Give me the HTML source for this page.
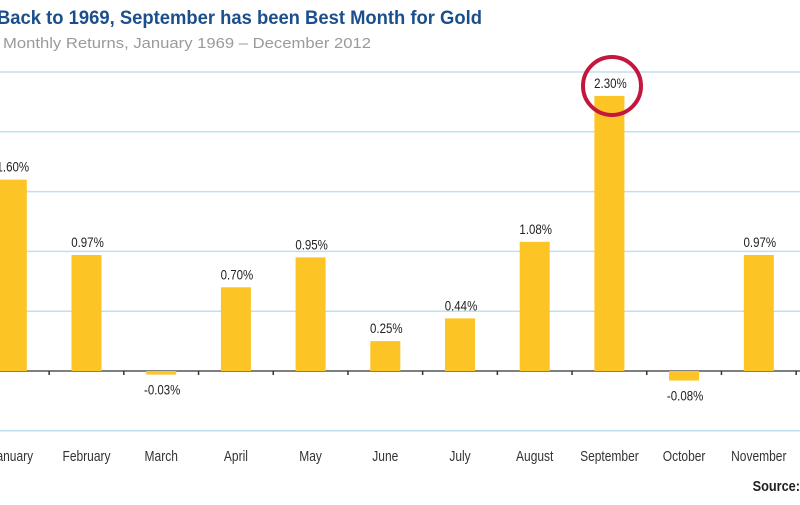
<!DOCTYPE html>
<html><head><meta charset="utf-8"><style>
body{margin:0;background:#fff;width:800px;height:500px;overflow:hidden}
svg text{font-family:"Liberation Sans",sans-serif}
</style></head><body>
<svg id="chart" width="800" height="500" viewBox="0 0 800 500" xmlns="http://www.w3.org/2000/svg">
<text x="-3" y="24" font-weight="bold" font-size="19" fill="#1b4f8c" textLength="485" lengthAdjust="spacingAndGlyphs">Back to 1969, September has been Best Month for Gold</text>
<text x="3" y="48" font-size="15" fill="#9a9a9a" textLength="368" lengthAdjust="spacingAndGlyphs">Monthly Returns, January 1969 – December 2012</text>
<g id="grid"></g><g id="bars"></g><g id="labels"></g>
<circle cx="612" cy="86" r="29" fill="none" stroke="#c4173e" stroke-width="4"/>
<text transform="translate(800,491) scale(0.85,1)" text-anchor="end" font-weight="bold" font-size="15" fill="#222">Source:</text>
</svg>
<script>
const months=["January","February","March","April","May","June","July","August","September","October","November"];
const returns=[1.60,0.97,-0.03,0.70,0.95,0.25,0.44,1.08,2.30,-0.08,0.97];
const valueLabels=["1.60%","0.97%","-0.03%","0.70%","0.95%","0.25%","0.44%","1.08%","2.30%","-0.08%","0.97%"];
const gridTicks=[-0.5,0,0.5,1.0,1.5,2.0,2.5];
const NS="http://www.w3.org/2000/svg";
const y=v=>371-v*119.6;
const step=74.7, x0=11.8;
const xc=i=>x0+i*step;
function mk(tag,attrs,parent,text){const e=document.createElementNS(NS,tag);for(const k in attrs)e.setAttribute(k,attrs[k]);if(text!==undefined)e.textContent=text;parent.appendChild(e);return e;}
const grid=document.getElementById('grid'),bars=document.getElementById('bars'),labels=document.getElementById('labels');
gridTicks.forEach(t=>{if(t===0)return;const l=mk('line',{x1:0,x2:800,y1:y(t),y2:y(t),stroke:'#bfe0ef','stroke-width':1.5},grid);

});
returns.forEach((v,i)=>{
const top=Math.min(y(v),y(0)),h=Math.max(Math.abs(y(v)-y(0)),1.5);
const r=mk('rect',{x:xc(i)-15,y:top,width:30,height:h,fill:'#fcc425'},bars);


const ly=v>=0?y(v)-8:y(v)+20;
const t=mk('text',{transform:`translate(${xc(i)+1},${ly}) scale(0.82,1)`,'text-anchor':'middle','font-size':14,fill:'#222'},labels,valueLabels[i]);


const m=mk('text',{transform:`translate(${xc(i)},461) scale(0.8,1)`,'text-anchor':'middle','font-size':15,fill:'#333'},labels,months[i]);


});
const ax=mk('line',{x1:0,x2:800,y1:y(0),y2:y(0),stroke:'#555','stroke-width':1.5},grid);


for(let i=0;i<months.length;i++){const tk=mk('line',{x1:xc(i)+step/2,x2:xc(i)+step/2,y1:y(0),y2:y(0)+4,stroke:'#333','stroke-width':1.5},grid);

}
</script>
</body></html>
